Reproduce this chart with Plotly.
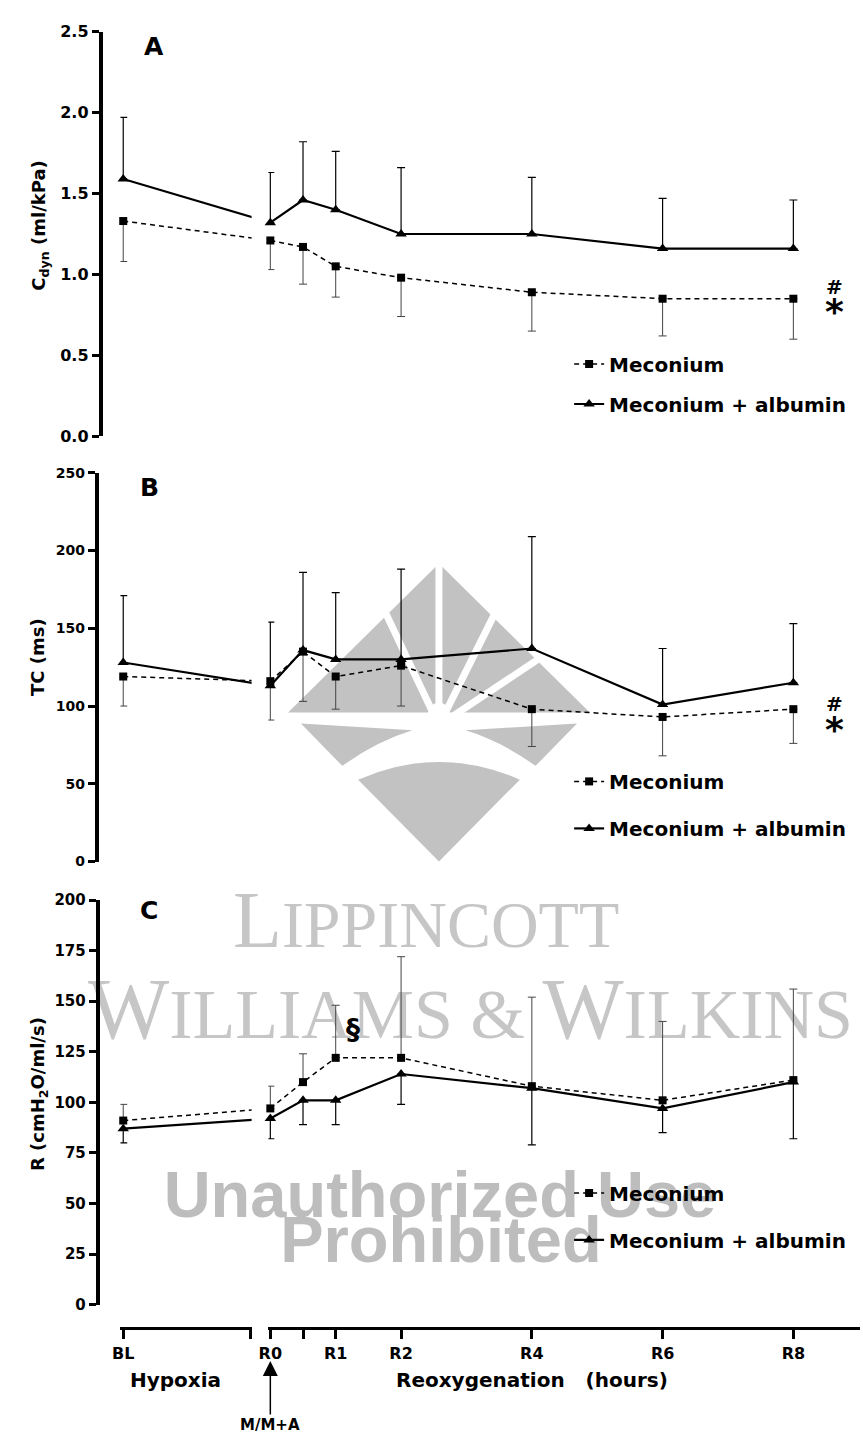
import plotly.graph_objects as go

W, H = 863, 1437

# ---------------- data ----------------
time_labels = ["BL", "R0", "R0.5", "R1", "R2", "R4", "R6", "R8"]
time_pos = [-2.25, 0, 0.5, 1, 2, 4, 6, 8]      # hours from R0; BL sits on the hypoxia segment
hypoxia_end = -0.30

cdyn_mec = [1.33, 1.21, 1.17, 1.05, 0.98, 0.89, 0.85, 0.85]
cdyn_mec_sd = [0.25, 0.18, 0.23, 0.19, 0.24, 0.24, 0.23, 0.25]
cdyn_alb = [1.59, 1.32, 1.46, 1.40, 1.25, 1.25, 1.16, 1.16]
cdyn_alb_sd = [0.38, 0.31, 0.36, 0.36, 0.41, 0.35, 0.31, 0.30]

tc_mec = [119, 116, 135, 119, 126, 98, 93, 98]
tc_mec_sd = [19, 25, 32, 21, 26, 24, 25, 22]
tc_alb = [128, 113, 136, 130, 130, 137, 101, 115]
tc_alb_sd = [43, 41, 50, 43, 58, 72, 36, 38]

r_mec = [91, 97, 110, 122, 122, 108, 101, 111]
r_mec_sd = [8, 11, 14, 26, 50, 44, 39, 45]
r_alb = [87, 92, 101, 101, 114, 107, 97, 110]
r_alb_sd = [7, 10, 12, 12, 15, 28, 12, 28]

series_names = ["Meconium", "Meconium + albumin"]

# ---------------- layout helpers ----------------
R0_PX, PX_PER_H = 264.0, 66.3
LEFT_DOM = (112, 245)
RIGHT_DOM = (262, 862)


def px2h(px):
    return (px - R0_PX) / PX_PER_H


def fx(px):
    return px / W


def fy(py):
    return 1 - py / H


BOLD = "DejaVu Sans"

fig = go.Figure()

panels = [
    # yaxis, xleft, xright, legend, mec, mec_sd, alb, alb_sd, mec_err_up
    ("y", "x", "x2", "legend", cdyn_mec, cdyn_mec_sd, cdyn_alb, cdyn_alb_sd, False),
    ("y2", "x3", "x4", "legend2", tc_mec, tc_mec_sd, tc_alb, tc_alb_sd, False),
    ("y3", "x5", "x6", "legend3", r_mec, r_mec_sd, r_alb, r_alb_sd, True),
]

for ya, xl, xr, leg, mec, mec_sd, alb, alb_sd, mec_up in panels:
    for k, (vals, sd, up) in enumerate([(mec, mec_sd, mec_up), (alb, alb_sd, not mec_up)]):
        if k == 0:
            line = dict(color="black", width=1.5, dash="5px,4px")
            marker = dict(symbol="square", size=8, color="black")
            err_col, err_w = "#444444", 1.0
        else:
            line = dict(color="black", width=2.2)
            marker = dict(symbol="triangle-up", size=10, color="black")
            err_col, err_w = "black", 1.2
        for xa, sl, show in [(xl, slice(0, 2), False), (xr, slice(1, None), True)]:
            s = sd[sl]
            zeros = [0] * len(s)
            fig.add_trace(go.Scatter(
                x=time_pos[sl], y=vals[sl], xaxis=xa, yaxis=ya,
                mode="lines+markers", line=line, marker=marker,
                name=series_names[k], legend=leg, showlegend=show,
                legendgroup=f"{leg}_{k}", cliponaxis=False,
                error_y=dict(type="data", symmetric=False,
                             array=s if up else zeros,
                             arrayminus=zeros if up else s,
                             color=err_col, thickness=err_w, width=4),
                hoverinfo="skip",
            ))


def yax(top_px, bot_px, rng, dtick, pos_px, fmt, size):
    return dict(domain=[fy(bot_px), fy(top_px)], range=rng, dtick=dtick, tick0=0,
                anchor="free", position=fx(pos_px), showline=True, linewidth=4,
                linecolor="black", ticks="outside", ticklen=7, tickwidth=3,
                tickcolor="black", tickformat=fmt, showgrid=False, zeroline=False,
                tickfont=dict(family=BOLD, size=size, weight="bold", color="black"))


def xhidden(dom, anchor):
    return dict(domain=[fx(dom[0]), fx(dom[1])], range=[px2h(dom[0]), px2h(dom[1])],
                anchor=anchor, visible=False, showgrid=False, zeroline=False)


bottom_pos = fy(1337)
xfont = dict(family=BOLD, size=16, weight="bold", color="black")

fig.update_layout(
    width=W, height=H, margin=dict(l=0, r=0, t=0, b=0),
    paper_bgcolor="white", plot_bgcolor="rgba(0,0,0,0)",
    yaxis=yax(23, 433, [0, 2.5], 0.5, 92, ".1f", 16),
    yaxis2=yax(470, 864, [0, 250], 50, 88, "d", 14),
    yaxis3=yax(903, 1313, [0, 200], 25, 89, "d", 15),
    xaxis=xhidden(LEFT_DOM, "y"),
    xaxis2=xhidden(RIGHT_DOM, "y"),
    xaxis3=xhidden(LEFT_DOM, "y2"),
    xaxis4=xhidden(RIGHT_DOM, "y2"),
    xaxis5=dict(domain=[fx(LEFT_DOM[0]), fx(LEFT_DOM[1])],
                range=[px2h(LEFT_DOM[0]), px2h(LEFT_DOM[1])],
                anchor="free", position=bottom_pos, showline=True, linewidth=3,
                linecolor="black", ticks="outside", ticklen=9, tickwidth=2.5,
                tickcolor="black", tickvals=[time_pos[0], hypoxia_end],
                ticktext=[time_labels[0], " "], tickfont=xfont,
                showgrid=False, zeroline=False),
    xaxis6=dict(domain=[fx(RIGHT_DOM[0]), fx(RIGHT_DOM[1])],
                range=[px2h(RIGHT_DOM[0]), px2h(RIGHT_DOM[1])],
                anchor="free", position=bottom_pos, showline=True, linewidth=3,
                linecolor="black", ticks="outside", ticklen=9, tickwidth=2.5,
                tickcolor="black", tickvals=time_pos[1:],
                ticktext=[t if t != "R0.5" else " " for t in time_labels[1:]],
                tickfont=xfont, showgrid=False, zeroline=False),
)

legfont = dict(family=BOLD, size=20, weight="bold", color="black")
for key, top, gap in [("legend", 340, 11), ("legend2", 763, 18), ("legend3", 1180, 18)]:
    fig.update_layout({key: dict(x=fx(567), y=fy(top), xanchor="left", yanchor="top",
                                 bgcolor="rgba(0,0,0,0)", font=legfont,
                                 traceorder="grouped", tracegroupgap=gap,
                                 itemclick=False)})

ann = []


def txt(text, x, y, size, bold=True, angle=0, family=BOLD, color="black"):
    ann.append(dict(text=text, x=fx(x), y=fy(y), xref="paper", yref="paper",
                    showarrow=False, textangle=angle, xanchor="center", yanchor="middle",
                    font=dict(family=family, size=size, color=color,
                              weight="bold" if bold else "normal")))


txt("A", 146, 38, 25)
txt("B", 141, 485, 25)
txt("C", 141, 914, 25)
txt("C<sub>dyn</sub> (ml/kPa)", 31, 220, 18, angle=-90)
txt("TC (ms)", 28, 657, 18, angle=-90)
txt("R (cmH<sub>2</sub>O/ml/s)", 30, 1100, 18, angle=-90)
txt("#", 836, 282, 20)
txt("*", 836, 307, 36)
txt("#", 836, 704, 20)
txt("*", 836, 730, 36)
txt("§", 348, 1034, 28)
txt("Hypoxia", 168, 1389, 20)
txt("Reoxygenation   (hours)", 529, 1389, 20)
ann.append(dict(x=time_pos[1], y=fy(1370), xref="x6", yref="paper", ax=0, ay=64,
                text="M/M+A", showarrow=True, arrowhead=2, arrowsize=2, arrowwidth=1.5,
                arrowcolor="black",
                font=dict(family=BOLD, size=15, weight="bold", color="black")))
fig.update_layout(annotations=ann)

# ---------------- watermark (drawn below the data) ----------------
GRAY = "#c2c2c2"
shapes = []


def path(points):
    return "M " + " L ".join(f"{fx(x):.5f},{fy(y):.5f}" for x, y in points) + " Z"


def poly(points):
    shapes.append(dict(type="path", xref="paper", yref="paper", path=path(points),
                       fillcolor=GRAY, line=dict(width=0), layer="below"))


def qpoly(p0, p1, ctrl, p2):
    d = (f"M {fx(p0[0]):.5f},{fy(p0[1]):.5f} L {fx(p1[0]):.5f},{fy(p1[1]):.5f} "
         f"Q {fx(ctrl[0]):.5f},{fy(ctrl[1]):.5f} {fx(p2[0]):.5f},{fy(p2[1]):.5f} Z")
    shapes.append(dict(type="path", xref="paper", yref="paper", path=d,
                       fillcolor=GRAY, line=dict(width=0), layer="below"))


poly([(282, 713), (435, 562), (588, 713)])
qpoly((295, 724), (408, 731), (372, 742), (337, 767))
qpoly((575, 724), (462, 731), (498, 742), (533, 767))
shapes.append(dict(type="path", xref="paper", yref="paper", layer="below",
                   path=(f"M {fx(353):.5f},{fy(781):.5f} Q {fx(435):.5f},{fy(745):.5f} "
                         f"{fx(517):.5f},{fy(781):.5f} L {fx(435):.5f},{fy(864):.5f} Z"),
                   fillcolor=GRAY, line=dict(width=0)))
for ex, ey in [(379, 608), (435, 555), (493, 610), (540, 656)]:
    shapes.append(dict(type="line", xref="paper", yref="paper", layer="below",
                       x0=fx(435), y0=fy(726), x1=fx(ex), y1=fy(ey),
                       line=dict(color="white", width=7)))
shapes.append(dict(type="circle", xref="paper", yref="paper", layer="below",
                   x0=fx(424), x1=fx(446), y0=fy(725), y1=fy(703),
                   fillcolor="white", line=dict(width=0)))


def label_shape(text, cx, cy, size, family, color):
    shapes.append(dict(type="rect", xref="paper", yref="paper", layer="below",
                       x0=fx(cx - 420), x1=fx(cx + 420), y0=fy(cy + 50), y1=fy(cy - 50),
                       line=dict(width=0), fillcolor="rgba(0,0,0,0)",
                       label=dict(text=text, textposition="middle center", padding=0,
                                  font=dict(family=family, size=size, color=color))))


label_shape("L<span style='font-size:66px'>IPPINCOTT</span>", 422, 914, 80,
            "Liberation Serif", "#c6c6c6")
label_shape("W<span style='font-size:70px'>ILLIAMS &amp; </span>W"
            "<span style='font-size:70px'>ILKINS</span>", 467, 1004, 86,
            "Liberation Serif", "#c6c6c6")
label_shape("<b>Unauthorized Use</b>", 436, 1195, 65, "Liberation Sans", "#bdbdbd")
label_shape("<b>Prohibited</b>", 437, 1241, 65, "Liberation Sans", "#bdbdbd")

fig.update_layout(shapes=shapes)

fig.write_html("out.html")
